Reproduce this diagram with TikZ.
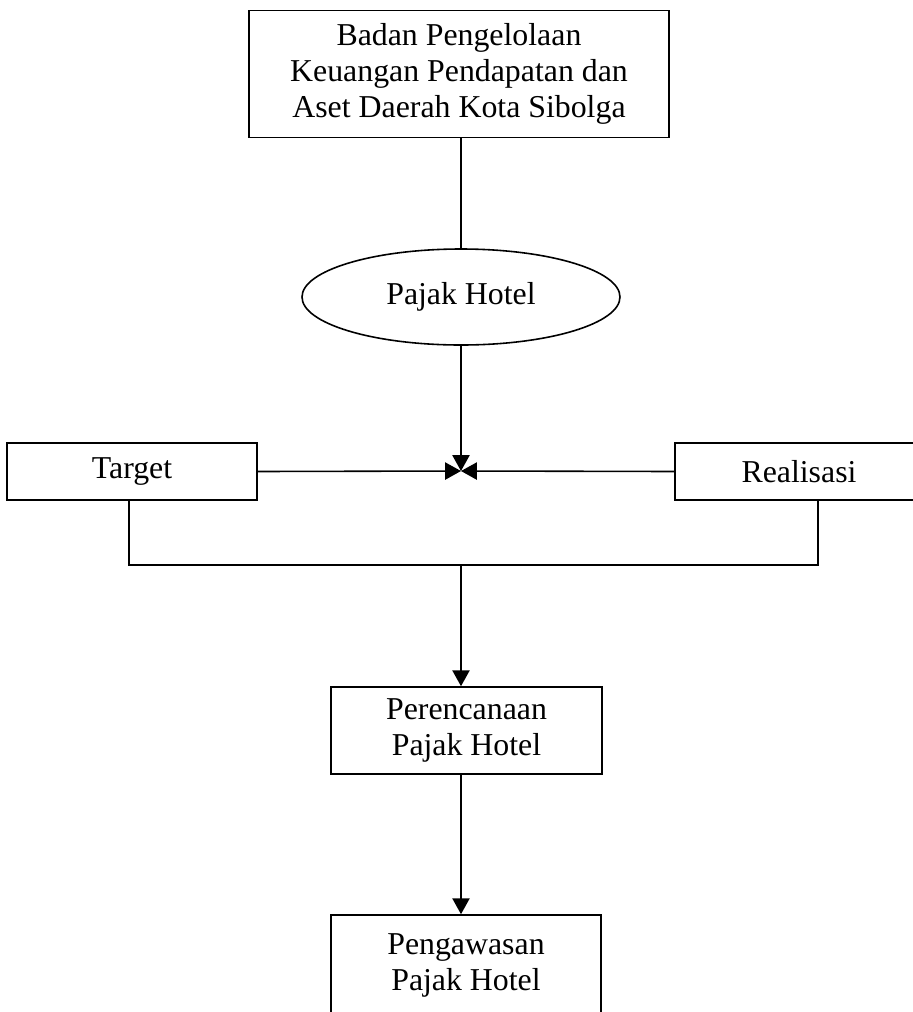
\documentclass[tikz,border=0pt]{standalone}
\usepackage{fontspec}
\setmainfont{Liberation Serif}
\usepackage{tikz}
\usetikzlibrary{shapes.geometric,arrows.meta}
\newcommand{\pxu}{0.377pt}
\tikzset{
  box/.style={draw, line width=0.6pt, rectangle, align=center, inner sep=0pt,
    font=\fontsize{12pt}{13.6pt}\selectfont},
  oval/.style={draw, line width=0.6pt, ellipse, inner sep=0pt,
    font=\fontsize{12pt}{13.6pt}\selectfont},
  link/.style={line width=0.6pt},
  arrow/.style={line width=0.6pt, -{Triangle[length=6pt,width=6.5pt]}}
}

\begin{document}
\begin{tikzpicture}[x=0.377pt, y=-0.377pt]
\useasboundingbox (0,0) rectangle (913,1012);
\clip (0,0) rectangle (913,1012);
% boxes
\node[box, minimum width=420*\pxu, minimum height=127*\pxu] (bpk) at (459,74)
  {Badan Pengelolaan\\Keuangan Pendapatan dan\\Aset Daerah Kota Sibolga};
\node[oval, minimum width=318*\pxu, minimum height=96*\pxu] (pajak) at (461,297) {Pajak Hotel};
\node[box, minimum width=250*\pxu, minimum height=57*\pxu] (target) at (132,471.5) {Target};
\node[box, minimum width=248*\pxu, minimum height=57*\pxu] (realisasi) at (799,471.5) {Realisasi};
\node[box, minimum width=271*\pxu, minimum height=87*\pxu] (plan) at (466.5,730.5)
  {Perencanaan\\Pajak Hotel};
\node[box, minimum width=270*\pxu, minimum height=100*\pxu] (control) at (466,965)
  {Pengawasan\\Pajak Hotel};
% connectors
\coordinate (meet) at (461,471);
\coordinate (jl) at (129,565);
\coordinate (jm) at (461,565);
\coordinate (jr) at (818,565);
\draw[link] (bpk.south -| pajak.north) -- (pajak.north);
\draw[arrow] (pajak.south) -- (meet);
\draw[arrow] (target.east) -- (meet);
\draw[arrow] (realisasi.west) -- (meet);
\draw[link] (target.south -| jl) -- (jl) -- (jr) -- (realisasi.south -| jr);
\draw[arrow] (jm) -- (jm |- plan.north);
\draw[arrow] (plan.south -| jm) -- (jm |- control.north);
\end{tikzpicture}
\end{document}
